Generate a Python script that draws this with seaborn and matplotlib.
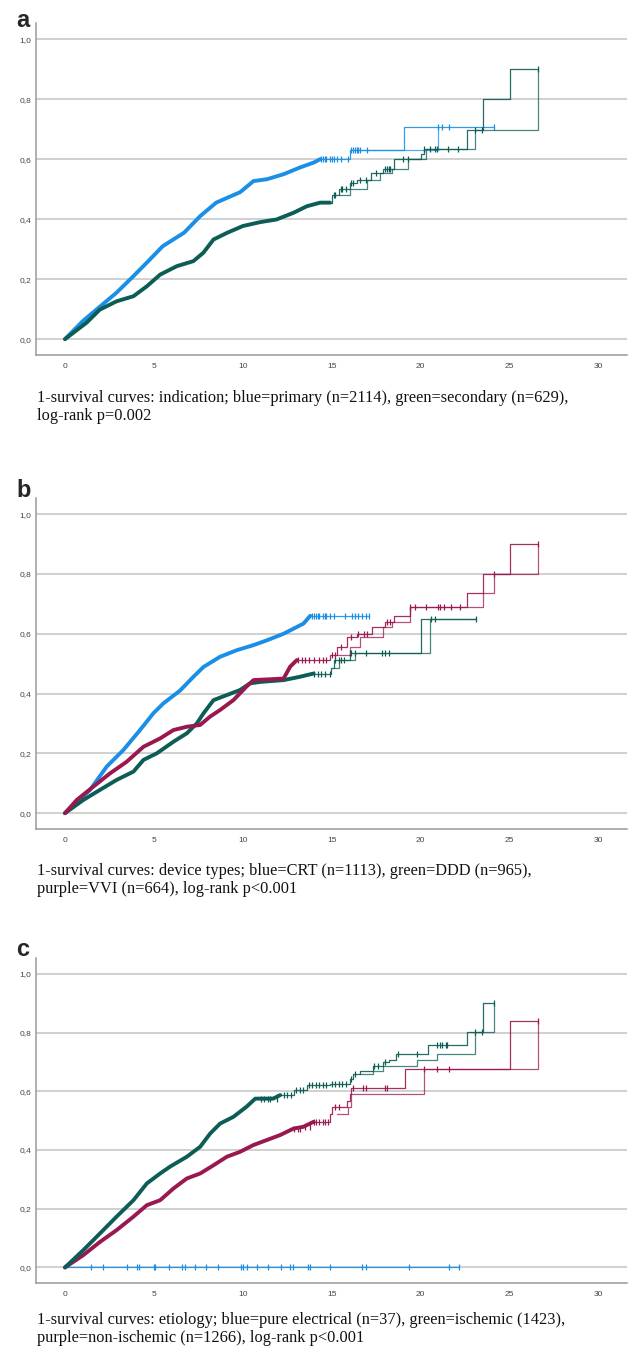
import numpy as np
import matplotlib
matplotlib.use("Agg")
import matplotlib.pyplot as plt
import seaborn as sns

# colours used by the curves
BLUE = "#1b8fe6"
GREEN = "#0b5d55"
PURPLE = "#9a1850"

x_ticks = [0, 5, 10, 15, 20, 25, 30]
y_ticks = [0.0, 0.2, 0.4, 0.6, 0.8, 1.0]
y_tick_labels = ["0,0", "0,2", "0,4", "0,6", "0,8", "1,0"]

# ---- panel a: indication ----
a_blue_t = [0, 1, 2, 2.9, 3.85, 4.6, 5.5, 6.7, 7.6, 8.5, 9.85, 10.6, 11.35, 12.3, 13.2, 14.0, 14.35]
a_blue_v = [0, 0.06, 0.11, 0.155, 0.21, 0.255, 0.31, 0.355, 0.41, 0.455, 0.49, 0.527, 0.533, 0.55, 0.572, 0.589, 0.60]
a_blue_tail_t = [14.35, 16.0, 19.04, 24.1]
a_blue_tail_v = [0.60, 0.63, 0.706, 0.706]
a_blue_sh_t = [16.0, 21.0]
a_blue_sh_v = [0.63, 0.706]
a_blue_cens = [14.4, 14.5, 14.6, 14.7, 14.9, 15.0, 15.1, 15.3, 15.5, 15.9, 16.1, 16.2, 16.3,
               16.4, 16.5, 16.6, 17.0, 21.0, 21.2, 21.57, 24.1]

a_green_t = [0, 1.22, 1.95, 2.9, 3.85, 4.6, 5.35, 6.28, 7.22, 7.78, 8.35, 9.1, 10.0, 10.97,
             11.9, 12.84, 13.6, 14.35, 14.9]
a_green_v = [0, 0.055, 0.098, 0.126, 0.143, 0.176, 0.215, 0.243, 0.26, 0.288, 0.332, 0.354,
             0.377, 0.39, 0.399, 0.421, 0.443, 0.455, 0.455]
a_green_tail_t = [14.9, 15.0, 15.4, 16.04, 16.4, 17.2, 17.9, 18.5, 20.0, 20.2, 22.6, 23.5, 25.0, 26.6]
a_green_tail_v = [0.455, 0.48, 0.50, 0.52, 0.53, 0.555, 0.568, 0.60, 0.616, 0.635, 0.696, 0.80, 0.90, 0.90]
a_green_sh_t = [15.4, 16.0, 17.0, 17.7, 18.4, 19.3, 20.3, 23.07, 26.6]
a_green_sh_v = [0.48, 0.50, 0.53, 0.555, 0.568, 0.60, 0.635, 0.696, 0.90]
a_green_cens = [15.1, 15.2, 15.5, 15.6, 15.8, 16.1, 16.2, 16.6, 16.9, 17.5, 18.0, 18.1, 18.2,
                18.3, 19.0, 19.3, 20.2, 20.5, 20.8, 20.9, 21.56, 22.1, 23.07, 23.45, 26.6]

# ---- panel b: device types ----
b_blue_t = [0, 1.41, 2.35, 3.28, 4.22, 4.97, 5.53, 6.47, 7.22, 7.79, 8.72, 9.66, 10.6, 11.35,
            12.29, 12.85, 13.41, 13.79]
b_blue_v = [0, 0.078, 0.156, 0.211, 0.278, 0.334, 0.367, 0.41, 0.456, 0.489, 0.523, 0.545,
            0.562, 0.578, 0.60, 0.617, 0.634, 0.66]
b_blue_tail_t = [13.79, 17.07]
b_blue_tail_v = [0.66, 0.66]
b_blue_sh_t = []
b_blue_sh_v = []
b_blue_cens = [13.9, 14.0, 14.1, 14.2, 14.3, 14.5, 14.6, 14.7, 14.9, 15.1, 15.76, 16.13, 16.32,
               16.5, 16.7, 16.9, 17.07]

b_purple_t = [0, 0.66, 1.6, 2.53, 3.47, 4.41, 5.35, 6.1, 6.85, 7.6, 8.16, 8.72, 9.47, 10.2,
              10.6, 12.29, 12.66, 13.04]
b_purple_v = [0, 0.044, 0.089, 0.133, 0.172, 0.222, 0.25, 0.278, 0.289, 0.295, 0.323, 0.345,
              0.378, 0.423, 0.445, 0.45, 0.49, 0.512]
b_purple_tail_t = [13.04, 14.9, 15.3, 15.85, 16.4, 17.25, 18.0, 18.5, 19.4, 22.6, 23.5, 25.0, 26.6]
b_purple_tail_v = [0.512, 0.528, 0.556, 0.589, 0.60, 0.622, 0.639, 0.661, 0.689, 0.736, 0.80, 0.90, 0.90]
b_purple_sh_t = [15.3, 16.0, 16.6, 17.9, 18.4, 19.4, 23.5, 24.1, 26.6]
b_purple_sh_v = [0.528, 0.556, 0.589, 0.622, 0.639, 0.689, 0.736, 0.80, 0.90]
b_purple_cens = [13.1, 13.3, 13.5, 13.7, 14.0, 14.3, 14.5, 14.7, 15.0, 15.2, 15.5, 16.1, 16.5,
                 16.8, 17.0, 18.1, 18.3, 19.4, 19.7, 20.3, 21.0, 21.1, 21.3, 21.7, 22.2, 24.1, 26.6]

b_green_t = [0, 1.03, 1.97, 2.9, 3.85, 4.41, 5.16, 6.1, 6.85, 7.41, 7.79, 8.35, 9.1, 9.85,
             10.4, 10.98, 12.3, 13.2, 13.98]
b_green_v = [0, 0.044, 0.078, 0.111, 0.139, 0.178, 0.20, 0.239, 0.267, 0.30, 0.334, 0.378,
             0.395, 0.412, 0.434, 0.439, 0.445, 0.456, 0.467]
b_green_tail_t = [13.98, 14.96, 15.1, 16.0, 20.0, 23.1]
b_green_tail_v = [0.467, 0.484, 0.511, 0.536, 0.648, 0.648]
b_green_sh_t = [15.1, 15.4, 16.3, 20.5, 23.1]
b_green_sh_v = [0.484, 0.511, 0.536, 0.648, 0.648]
b_green_cens = [14.0, 14.2, 14.4, 14.6, 14.9, 15.2, 15.4, 15.5, 15.7, 16.0, 16.1, 16.3, 16.9,
                17.8, 18.0, 18.2, 20.6, 20.8, 23.1]

# ---- panel c: etiology ----
c_blue_t = []
c_blue_v = []
c_blue_tail_t = [0, 22.16]
c_blue_tail_v = [0, 0]
c_blue_sh_t = []
c_blue_sh_v = []
c_blue_cens = [1.45, 2.12, 3.47, 4.03, 4.18, 5.01, 5.08, 5.87, 6.57, 6.75, 7.32, 7.92, 8.63,
               9.89, 10.03, 10.22, 10.79, 11.44, 12.14, 12.66, 12.84, 13.69, 13.79, 14.9,
               16.71, 16.9, 19.34, 21.59, 22.16]

c_green_t = [0, 1.03, 1.97, 2.9, 3.85, 4.6, 5.35, 5.9, 6.85, 7.6, 8.16, 8.72, 9.47, 10.2,
             10.7, 11.7, 12.1]
c_green_v = [0, 0.059, 0.116, 0.173, 0.229, 0.286, 0.32, 0.343, 0.377, 0.411, 0.456, 0.49,
             0.513, 0.547, 0.575, 0.575, 0.587]
c_green_tail_t = [12.1, 12.85, 13.6, 14.9, 16.0, 16.2, 16.6, 17.3, 17.87, 18.2, 18.6, 20.4,
                  22.6, 23.5, 24.1]
c_green_tail_v = [0.587, 0.604, 0.621, 0.625, 0.643, 0.66, 0.669, 0.685, 0.70, 0.708, 0.728,
                  0.757, 0.802, 0.90, 0.90]
c_green_sh_t = [16.6, 17.3, 17.9, 19.8, 20.9, 23.07, 24.1]
c_green_sh_v = [0.66, 0.669, 0.685, 0.708, 0.728, 0.802, 0.90]
c_green_cens = [11.0, 11.2, 11.4, 11.5, 11.9, 12.3, 12.5, 12.7, 13.0, 13.2, 13.4, 13.7, 13.9,
                14.1, 14.3, 14.5, 14.7, 15.0, 15.2, 15.4, 15.6, 15.8, 16.1, 16.3, 17.4, 17.6,
                18.0, 18.7, 19.8, 20.9, 21.1, 21.2, 21.4, 21.5, 23.07, 23.45, 24.1]

c_purple_t = [0, 1.03, 1.97, 2.9, 3.85, 4.6, 5.35, 6.1, 6.85, 7.6, 8.35, 9.1, 9.85, 10.6,
              11.35, 12.1, 12.85, 13.4, 13.98]
c_purple_v = [0, 0.042, 0.087, 0.127, 0.173, 0.212, 0.229, 0.269, 0.303, 0.32, 0.348, 0.377,
              0.394, 0.417, 0.434, 0.451, 0.473, 0.479, 0.496]
c_purple_tail_t = [13.98, 14.9, 15.0, 15.85, 16.0, 16.1, 19.1, 25.0, 26.6]
c_purple_tail_v = [0.496, 0.524, 0.546, 0.568, 0.592, 0.611, 0.676, 0.839, 0.839]
c_purple_sh_t = [15.3, 15.9, 16.1, 20.2, 26.6]
c_purple_sh_v = [0.524, 0.546, 0.592, 0.676, 0.839]
c_purple_cens = [12.9, 13.1, 13.2, 13.5, 13.8, 14.0, 14.1, 14.3, 14.5, 14.6, 14.8, 15.2, 15.4,
                 16.2, 16.75, 16.9, 18.0, 18.1, 20.2, 20.9, 21.6, 26.6]

captions = [
    "1-survival curves: indication; blue=primary (n=2114), green=secondary (n=629),\nlog-rank p=0.002",
    "1-survival curves: device types; blue=CRT (n=1113), green=DDD (n=965),\npurple=VVI (n=664), log-rank p<0.001",
    "1-survival curves: etiology; blue=pure electrical (n=37), green=ischemic (1423),\npurple=non-ischemic (n=1266), log-rank p<0.001",
]
panel_letters = ["a", "b", "c"]

W, H = 644, 1354


def draw_curve(ax, color, t, v, tail_t, tail_v, sh_t, sh_v, cens):
    # dense early part: censor marks merge into a thick band
    if t:
        sns.lineplot(x=t, y=v, ax=ax, color=color, linewidth=2.8, estimator=None, sort=False,
                     solid_capstyle="round")
    sns.lineplot(x=tail_t, y=tail_v, ax=ax, color=color, linewidth=0.9, alpha=0.9,
                 estimator=None, sort=False, drawstyle="steps-post")
    if sh_t:
        sns.lineplot(x=sh_t, y=sh_v, ax=ax, color=color, linewidth=0.9, alpha=0.75,
                     estimator=None, sort=False, drawstyle="steps-post")
    all_t = np.array(list(t) + list(tail_t))
    all_v = np.array(list(v) + list(tail_v))
    order = np.argsort(all_t, kind="stable")
    all_t, all_v = all_t[order], all_v[order]
    idx = np.searchsorted(all_t, cens, side="right") - 1
    ax.plot(cens, all_v[idx], linestyle="none", marker="|", markersize=4.8,
            markeredgewidth=0.9, color=color)


sns.set_style("white")
plt.rcParams["font.family"] = ["Liberation Sans", "DejaVu Sans"]

fig = plt.figure(figsize=(W / 100, H / 100), dpi=100)

# pixel boxes (top, bottom) of each axes and text rows
axes_px = [(23, 355), (498, 829), (958, 1283)]
letter_base = [27, 497, 956]
caption_top = [390, 863, 1312]

curves = [
    [(BLUE, a_blue_t, a_blue_v, a_blue_tail_t, a_blue_tail_v, a_blue_sh_t, a_blue_sh_v, a_blue_cens),
     (GREEN, a_green_t, a_green_v, a_green_tail_t, a_green_tail_v, a_green_sh_t, a_green_sh_v, a_green_cens)],
    [(BLUE, b_blue_t, b_blue_v, b_blue_tail_t, b_blue_tail_v, b_blue_sh_t, b_blue_sh_v, b_blue_cens),
     (GREEN, b_green_t, b_green_v, b_green_tail_t, b_green_tail_v, b_green_sh_t, b_green_sh_v, b_green_cens),
     (PURPLE, b_purple_t, b_purple_v, b_purple_tail_t, b_purple_tail_v, b_purple_sh_t, b_purple_sh_v, b_purple_cens)],
    [(BLUE, c_blue_t, c_blue_v, c_blue_tail_t, c_blue_tail_v, c_blue_sh_t, c_blue_sh_v, c_blue_cens),
     (PURPLE, c_purple_t, c_purple_v, c_purple_tail_t, c_purple_tail_v, c_purple_sh_t, c_purple_sh_v, c_purple_cens),
     (GREEN, c_green_t, c_green_v, c_green_tail_t, c_green_tail_v, c_green_sh_t, c_green_sh_v, c_green_cens)],
]

left, right = 36, 627
for i, (top, bottom) in enumerate(axes_px):
    ax = fig.add_axes([left / W, 1 - bottom / H, (right - left) / W, (bottom - top) / H])
    for y in y_ticks:
        ax.axhline(y, color="#c4c4c4", linewidth=1.1, zorder=0)
    for c in curves[i]:
        draw_curve(ax, *c)
    ax.set_xlim(-1.63, 31.6)
    ax.set_ylim(-0.053, 1.054)
    ax.set_xticks(x_ticks)
    ax.set_xticklabels([str(x) for x in x_ticks])
    ax.set_yticks(y_ticks)
    ax.set_yticklabels(y_tick_labels)
    ax.tick_params(length=0, labelsize=6, labelcolor="#444444")
    ax.tick_params(axis="x", pad=5.5)
    ax.tick_params(axis="y", pad=3.5)
    ax.set_xlabel("")
    ax.set_ylabel("")
    for s in ["top", "right"]:
        ax.spines[s].set_visible(False)
    for s in ["left", "bottom"]:
        ax.spines[s].set_color("#9a9a9a")
        ax.spines[s].set_linewidth(1.1)

    fig.text(16 / W, 1 - letter_base[i] / H, panel_letters[i], fontsize=17,
             fontweight="bold", va="baseline", ha="left")
    fig.text(37 / W, 1 - caption_top[i] / H, captions[i], fontsize=11.8,
             family=["Liberation Serif", "DejaVu Serif"], va="top", ha="left",
             color="#111111", linespacing=1.2)

fig.savefig("out.png", dpi=100)
